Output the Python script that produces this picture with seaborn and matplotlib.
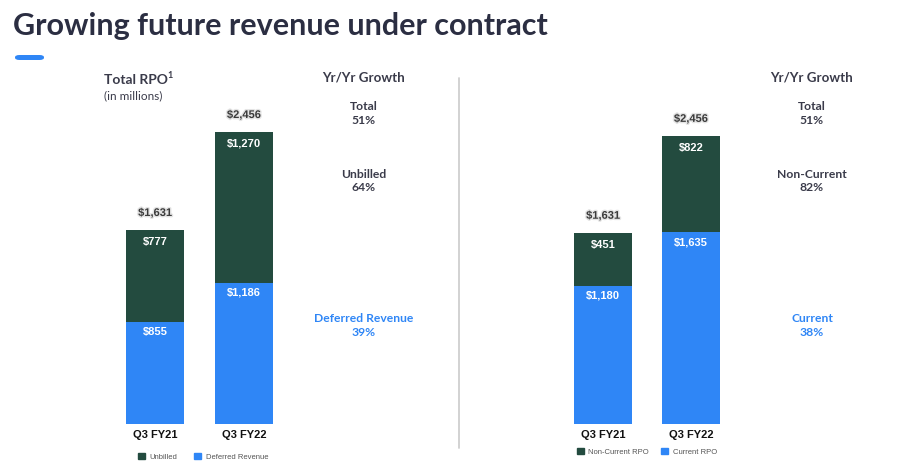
import matplotlib
matplotlib.use("Agg")
import matplotlib.pyplot as plt
import matplotlib.patheffects as pe
from matplotlib.patches import Patch, FancyBboxPatch
from matplotlib.lines import Line2D
import seaborn as sns
import pandas as pd

# ---- data ----
categories = ["Q3 FY21", "Q3 FY22"]
unbilled = [777, 1270]
deferred = [855, 1186]
totals_left = [1631, 2456]
non_current = [451, 822]
current = [1180, 1635]
totals_right = [1631, 2456]

growth_left = [("Total", "51%"), ("Unbilled", "64%"), ("Deferred Revenue", "39%")]
growth_right = [("Total", "51%"), ("Non-Current", "82%"), ("Current", "38%")]

GREEN = "#234B3F"
BLUE = "#2F86F6"
NAVY = "#2B2E42"
DARK = "#3A3B4A"

sns.set_theme(style="white")
plt.rcParams["font.family"] = ["Lato", "DejaVu Sans"]

W, H = 902, 466
fig = plt.figure(figsize=(W / 100, H / 100), dpi=100)


def fx(x):
    return x / W


def fy(y):
    return 1 - y / H


def make_axes(x0, x1, c0, c1, scale):
    per = c1 - c0
    ax = fig.add_axes([fx(x0), fy(424), (x1 - x0) / W, (424 - 60) / H])
    lims = ((x0 - c0) / per, (x1 - c0) / per, (424 - 60) / scale)
    return ax, 58 / per, lims


def draw_stack(ax, width, lims, bottom_vals, top_vals, totals, bottom_color, top_color):
    stack = [b + t for b, t in zip(bottom_vals, top_vals)]
    df = pd.DataFrame({"cat": categories, "stack": stack, "bottom": bottom_vals})
    sns.barplot(data=df, x="cat", y="stack", color=top_color, saturation=1,
                width=width, ax=ax, linewidth=0)
    sns.barplot(data=df, x="cat", y="bottom", color=bottom_color, saturation=1,
                width=width, ax=ax, linewidth=0)
    ax.set_xlim(lims[0], lims[1])
    ax.set_ylim(0, lims[2])
    for i in range(len(categories)):
        ax.annotate(f"${top_vals[i]:,}", (i, stack[i]), xytext=(0, -12),
                    textcoords="offset pixels", ha="center", va="center",
                    color="white", fontsize=8, fontweight="bold",
                    family="Liberation Sans")
        ax.annotate(f"${bottom_vals[i]:,}", (i, bottom_vals[i]), xytext=(0, -10),
                    textcoords="offset pixels", ha="center", va="center",
                    color="white", fontsize=8, fontweight="bold",
                    family="Liberation Sans")
        ax.annotate(f"${totals[i]:,}", (i, stack[i]), xytext=(0, 17),
                    textcoords="offset pixels", ha="center", va="center",
                    color="#3a3a3a", fontsize=8, fontweight="bold",
                    family="Liberation Sans",
                    path_effects=[pe.withStroke(linewidth=2.0, foreground="#e4e4e4")])
    ax.set_xlabel("")
    ax.set_ylabel("")
    ax.set_yticks([])
    ax.tick_params(axis="x", length=0, pad=4.5)
    for lab in ax.get_xticklabels():
        lab.set_fontweight("bold")
        lab.set_fontsize(8)
        lab.set_family("Liberation Sans")
        lab.set_color("#111111")
    for s in ax.spines.values():
        s.set_visible(False)
    ax.patch.set_alpha(0)


axL, wL, limL = make_axes(100, 300, 155, 244, (424 - 132) / 2456)
draw_stack(axL, wL, limL, deferred, unbilled, totals_left, BLUE, GREEN)
axR, wR, limR = make_axes(550, 750, 603, 691, (424 - 136) / 2456)
draw_stack(axR, wR, limR, current, non_current, totals_right, BLUE, GREEN)

# legends
axL.legend(handles=[Patch(color=GREEN), Patch(color=BLUE)],
           labels=["Unbilled", "Deferred Revenue"], loc="center",
           bbox_to_anchor=(fx(203), fy(457)), bbox_transform=fig.transFigure,
           ncol=2, frameon=False, handlelength=0.9, handleheight=0.9,
           columnspacing=2.2, handletextpad=0.6, labelcolor="#555555",
           prop={"family": "Liberation Sans", "size": 5.5})
axR.legend(handles=[Patch(color=GREEN), Patch(color=BLUE)],
           labels=["Non-Current RPO", "Current RPO"], loc="center",
           bbox_to_anchor=(fx(647), fy(452)), bbox_transform=fig.transFigure,
           ncol=2, frameon=False, handlelength=0.9, handleheight=0.9,
           columnspacing=1.6, handletextpad=0.6, labelcolor="#555555",
           prop={"family": "Liberation Sans", "size": 5.5})

# title and accent
fig.text(fx(13), fy(26), "Growing future revenue under contract", fontsize=22,
         fontweight="bold", color=NAVY, ha="left", va="center")
fig.patches.append(FancyBboxPatch((fx(15), fy(60)), fx(29), 5 / H,
                                  boxstyle="round,pad=0,rounding_size=0.005",
                                  transform=fig.transFigure, color=BLUE, lw=0))

fig.text(fx(104), fy(80), "Total RPO", fontsize=10, fontweight="bold",
         color=DARK, ha="left", va="center")
fig.text(fx(167), fy(76), "1", fontsize=6.5, fontweight="bold",
         color=DARK, ha="left", va="center")
fig.text(fx(104), fy(96), "(in millions)", fontsize=8.5, color=DARK,
         ha="left", va="center")

# divider
fig.add_artist(Line2D([fx(459), fx(459)], [fy(78), fy(448)],
                      color="#cfcfcf", lw=1.3, transform=fig.transFigure))


def growth(cx_head, cx, items):
    fig.text(fx(cx_head), fy(77), "Yr/Yr Growth", fontsize=9.6, fontweight="bold",
             color=DARK, ha="center", va="center")
    ys = [107, 174, 318]
    for (name, val), y in zip(items, ys):
        col = BLUE if y == 318 else DARK
        fig.text(fx(cx), fy(y), name, fontsize=8.7, fontweight="bold",
                 color=col, ha="center", va="center")
        fig.text(fx(cx), fy(y + 14), val, fontsize=8.7, fontweight="bold",
                 color=col, ha="center", va="center")


growth(364, 364, growth_left)
growth(812, 812, growth_right)

fig.savefig("out.png", dpi=100)
